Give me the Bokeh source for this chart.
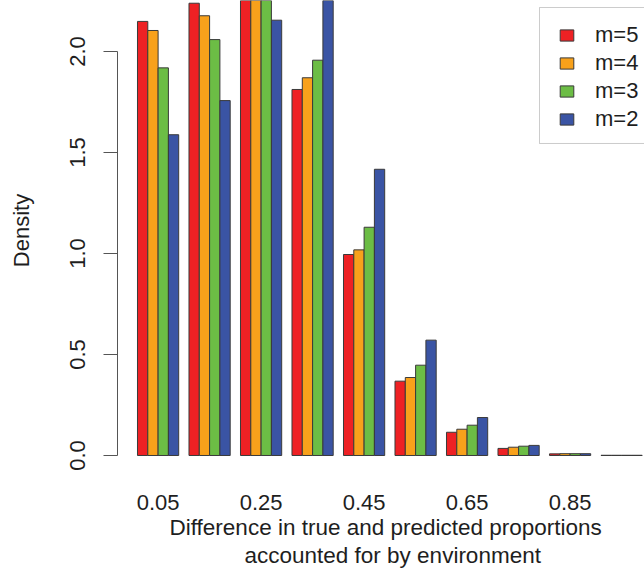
from bokeh.plotting import figure
from bokeh.models import (Range1d, FixedTicker, Legend, LegendItem, Title,
                          ColumnDataSource, PrintfTickFormatter, BoxAnnotation)
from bokeh.transform import dodge
from bokeh.embed import file_html
from bokeh.resources import INLINE

# ---- data ----
bins = [0.05, 0.15, 0.25, 0.35, 0.45, 0.55, 0.65, 0.75, 0.85, 0.95]
series_names = ["m=5", "m=4", "m=3", "m=2"]
m5 = [2.149, 2.239, 2.278, 1.812, 0.995, 0.368, 0.115, 0.035, 0.008, 0.001]
m4 = [2.104, 2.177, 2.264, 1.870, 1.018, 0.386, 0.130, 0.041, 0.009, 0.001]
m3 = [1.919, 2.059, 2.282, 1.957, 1.130, 0.447, 0.150, 0.046, 0.009, 0.001]
m2 = [1.588, 1.757, 2.155, 2.264, 1.417, 0.571, 0.188, 0.050, 0.009, 0.001]
x_tick_values = [0.05, 0.25, 0.45, 0.65, 0.85]
x_tick_labels = ["0.05", "0.25", "0.45", "0.65", "0.85"]
y_tick_values = [0.0, 0.5, 1.0, 1.5, 2.0]
x_title_lines = ["Difference in true and predicted proportions",
                 "accounted for by environment"]
y_title = "Density"

colors = ["#EE2124", "#F8A11B", "#6CBD45", "#3A54A4"]
FONT = "Liberation Sans"
TXT = "#1e1e1e"
AX = "#555555"

src = ColumnDataSource(dict(x=bins, m5=m5, m4=m4, m3=m3, m2=m2))

p = figure(width=644, height=574, output_backend="svg", toolbar_location=None,
           x_range=Range1d(-0.02883, 0.99447),
           y_range=Range1d(-0.0248, 2.2525),
           min_border_left=117, min_border_right=0, min_border_top=0,
           min_border_bottom=114)
p.outline_line_color = None
p.xgrid.visible = False
p.ygrid.visible = False
p.background_fill_color = "white"
p.border_fill_color = "white"

bar_w = 0.02
offsets = [-0.03, -0.01, 0.01, 0.03]
renderers = []
for col, off, c in zip(["m5", "m4", "m3", "m2"], offsets, colors):
    r = p.vbar(x=dodge("x", off, range=p.x_range), top=col, width=bar_w,
               bottom=0, source=src, fill_color=c, line_color="#3a3a3a",
               line_width=1)
    renderers.append(r)

# x axis: labels only
xa = p.xaxis[0]
xa.ticker = FixedTicker(ticks=x_tick_values)
xa.major_label_overrides = {v: s for v, s in zip(x_tick_values, x_tick_labels)}
xa.axis_line_color = None
xa.major_tick_line_color = None
xa.minor_tick_line_color = None
xa.major_tick_out = 0
xa.major_tick_in = 0
xa.major_label_standoff = 34
xa.major_label_text_font = FONT
xa.major_label_text_font_size = "22px"
xa.major_label_text_color = TXT

# y axis
ya = p.yaxis[0]
ya.ticker = FixedTicker(ticks=y_tick_values)
ya.formatter = PrintfTickFormatter(format="%.1f")
ya.bounds = (0, 2.0)
ya.axis_line_color = AX
ya.major_tick_line_color = AX
ya.minor_tick_line_color = None
ya.major_tick_in = 0
ya.major_tick_out = 14
ya.major_label_orientation = "vertical"
ya.major_label_standoff = 18
ya.major_label_text_font = FONT
ya.major_label_text_font_size = "22px"
ya.major_label_text_color = TXT
ya.axis_label = y_title
ya.axis_label_standoff = 34
ya.axis_label_text_font = FONT
ya.axis_label_text_font_size = "22px"
ya.axis_label_text_font_style = "normal"
ya.axis_label_text_color = TXT

# x title (two lines, centred on the full plotting region)
for line, off, so in zip(x_title_lines, [52, 127], [0, 2]):
    p.add_layout(Title(text=line, align="left", offset=off,
                       text_font=FONT, text_font_size="22.5px",
                       text_font_style="normal", text_color=TXT,
                       standoff=so), "below")

# legend frame
p.add_layout(BoxAnnotation(left=0.7906, right=1.2, top=2.2178, bottom=1.5446,
                           fill_color="white", fill_alpha=1,
                           line_color=AX, line_width=1, level="annotation"))

legend = Legend(items=[LegendItem(label=n, renderers=[r])
                       for n, r in zip(series_names, renderers)],
                location=(441, 328), orientation="vertical", margin=0,
                padding=14, spacing=2, glyph_width=17, glyph_height=14,
                label_standoff=20, label_text_font=FONT,
                label_text_font_size="22px", label_text_color=TXT,
                border_line_color=None, background_fill_alpha=0)
p.add_layout(legend)

open("out.html", "w").write(file_html(p, INLINE))
